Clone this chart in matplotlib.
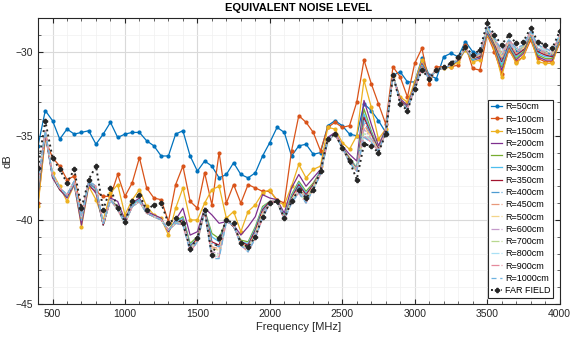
import numpy as np
import matplotlib
matplotlib.use("Agg")
import matplotlib.pyplot as plt
from matplotlib.ticker import MultipleLocator

plt.rcParams['font.family'] = ['Liberation Sans', 'DejaVu Sans']

# frequency axis, 400 to 4000 MHz every 50 MHz
freq = list(range(400, 4001, 50))

# values (dB)
r50 = [-35.6, -33.5, -34.1, -35.2, -34.6, -34.9, -34.8, -34.7, -35.5, -34.9,
       -34.2, -35.1, -34.9, -34.8, -34.8, -35.3, -35.6, -36.2, -36.2, -34.9,
       -34.7, -36.2, -37.1, -36.5, -36.8, -37.5, -37.3, -36.6, -37.3, -37.5,
       -37.2, -36.2, -35.4, -34.5, -34.8, -36.2, -35.6, -35.5, -36.1, -36.0,
       -34.4, -34.1, -34.4, -34.9, -35.0, -33.1, -33.5, -34.1, -34.8, -31.4,
       -31.2, -31.8, -31.8, -30.4, -31.4, -31.6, -30.3, -30.1, -30.3, -29.4,
       -30.0, -30.2, -28.6, -29.3, -30.3, -29.4, -29.9, -29.8, -28.9, -29.9,
       -30.0, -30.2, -29.1]
r100 = [-39.0, -35.2, -36.3, -36.8, -37.6, -37.4, -39.5, -38.0, -38.3, -38.6,
        -38.6, -37.3, -38.6, -37.8, -36.3, -38.1, -38.7, -38.8, -40.1, -37.9,
        -36.8, -38.9, -39.3, -37.2, -39.1, -36.0, -39.0, -37.9, -39.0, -37.9,
        -38.1, -38.3, -38.3, -38.8, -39.0, -35.9, -33.8, -34.2, -34.8, -35.9,
        -34.5, -34.2, -34.5, -34.4, -33.0, -30.5, -31.9, -33.1, -34.3, -30.9,
        -31.5, -32.7, -30.7, -29.8, -31.9, -30.9, -30.9, -30.9, -30.8, -29.6,
        -31.0, -31.1, -29.0, -30.0, -31.3, -29.9, -30.6, -30.3, -29.3, -30.4,
        -30.6, -30.6, -29.5]
r150 = [-39.2, -35.0, -37.2, -38.0, -38.9, -37.9, -40.4, -38.0, -38.8, -40.0,
        -38.4, -37.9, -39.7, -38.8, -38.2, -39.2, -39.7, -39.9, -40.9, -39.3,
        -38.1, -40.0, -40.0, -39.0, -38.2, -38.0, -39.9, -39.5, -40.7, -39.5,
        -39.1, -38.4, -38.2, -38.9, -39.1, -38.0, -36.7, -37.5, -37.0, -36.8,
        -34.5, -34.6, -35.4, -35.8, -35.0, -31.7, -33.3, -35.2, -34.6, -31.5,
        -32.7, -33.0, -31.8, -30.5, -31.5, -31.1, -31.0, -30.9, -30.6, -29.9,
        -30.6, -30.5, -29.0, -29.8, -31.5, -29.8, -30.7, -30.3, -29.1, -30.6,
        -30.7, -30.7, -29.4]
r200 = [-38.6, -34.9, -37.5, -38.2, -38.7, -37.9, -40.3, -37.9, -38.4, -40.3,
        -38.7, -38.9, -40.0, -39.0, -38.7, -39.5, -39.7, -39.9, -40.7, -40.0,
        -39.3, -40.9, -40.7, -39.3, -39.7, -40.2, -40.1, -40.3, -40.9, -40.4,
        -39.8, -38.5, -38.7, -38.8, -39.6, -38.1, -37.3, -38.0, -37.5, -37.0,
        -35.1, -34.8, -35.6, -36.1, -36.5, -32.9, -34.3, -35.6, -34.6, -31.4,
        -32.8, -33.2, -32.0, -30.7, -31.5, -31.1, -31.0, -30.8, -30.5, -29.8,
        -30.5, -30.4, -28.9, -29.7, -31.1, -29.7, -30.5, -30.1, -29.0, -30.3,
        -30.5, -30.5, -29.3]
r250 = [-38.4, -34.8, -37.4, -38.2, -38.6, -37.8, -40.0, -37.8, -38.2, -40.3,
        -38.8, -39.2, -40.1, -39.1, -38.8, -39.6, -39.8, -40.0, -40.6, -40.1,
        -39.8, -41.4, -41.0, -39.4, -40.8, -41.1, -40.0, -40.4, -41.2, -41.3,
        -40.4, -39.2, -38.9, -38.9, -39.8, -38.5, -37.7, -38.3, -37.8, -37.1,
        -35.2, -34.9, -35.7, -36.3, -36.9, -33.4, -34.7, -35.8, -34.7, -31.4,
        -32.9, -33.3, -32.1, -30.8, -31.6, -31.1, -31.0, -30.8, -30.5, -29.8,
        -30.5, -30.3, -28.8, -29.6, -30.9, -29.6, -30.4, -30.0, -29.0, -30.2,
        -30.4, -30.4, -29.3]
r300 = [-38.3, -34.8, -37.4, -38.2, -38.6, -37.8, -40.0, -37.8, -38.2, -40.3,
        -38.8, -39.3, -40.1, -39.1, -38.8, -39.6, -39.8, -40.0, -40.6, -40.1,
        -39.9, -41.5, -41.1, -39.4, -41.0, -41.3, -40.0, -40.4, -41.3, -41.4,
        -40.5, -39.3, -38.9, -38.9, -39.8, -38.6, -37.8, -38.4, -37.9, -37.1,
        -35.2, -34.9, -35.7, -36.4, -36.9, -33.7, -34.8, -35.8, -34.7, -31.4,
        -32.9, -33.3, -32.1, -30.8, -31.6, -31.1, -31.0, -30.8, -30.5, -29.8,
        -30.5, -30.3, -28.8, -29.5, -30.8, -29.6, -30.3, -29.9, -29.0, -30.1,
        -30.3, -30.3, -29.3]
r350 = [-38.2, -34.8, -37.4, -38.2, -38.6, -37.8, -39.9, -37.8, -38.1, -40.3,
        -38.8, -39.3, -40.2, -39.2, -38.9, -39.6, -39.8, -40.0, -40.6, -40.2,
        -40.0, -41.6, -41.1, -39.4, -41.3, -41.5, -40.0, -40.4, -41.3, -41.5,
        -40.6, -39.4, -38.9, -38.9, -39.9, -38.7, -37.9, -38.5, -37.9, -37.2,
        -35.2, -34.9, -35.7, -36.4, -37.0, -33.9, -34.9, -35.8, -34.7, -31.4,
        -32.9, -33.3, -32.1, -30.9, -31.6, -31.1, -31.0, -30.8, -30.5, -29.8,
        -30.4, -30.3, -28.7, -29.5, -30.6, -29.5, -30.2, -29.9, -28.9, -30.0,
        -30.2, -30.3, -29.2]
r400 = [-38.1, -34.8, -37.4, -38.1, -38.6, -37.8, -39.9, -37.8, -38.1, -40.2,
        -38.8, -39.3, -40.2, -39.2, -38.9, -39.6, -39.8, -40.0, -40.6, -40.2,
        -40.0, -41.6, -41.2, -39.4, -41.4, -41.6, -40.1, -40.3, -41.4, -41.6,
        -40.7, -39.5, -39.0, -38.9, -39.9, -38.8, -38.0, -38.6, -38.0, -37.2,
        -35.2, -34.9, -35.7, -36.5, -37.0, -34.1, -35.0, -35.9, -34.7, -31.4,
        -33.0, -33.3, -32.1, -30.9, -31.6, -31.1, -31.0, -30.8, -30.5, -29.8,
        -30.4, -30.2, -28.7, -29.4, -30.5, -29.5, -30.1, -29.8, -28.9, -29.9,
        -30.1, -30.2, -29.2]
r450 = [-38.0, -34.7, -37.3, -38.1, -38.5, -37.7, -39.9, -37.7, -38.1, -40.2,
        -38.8, -39.4, -40.2, -39.2, -38.9, -39.6, -39.8, -40.0, -40.6, -40.2,
        -40.1, -41.7, -41.2, -39.5, -41.6, -41.7, -40.1, -40.3, -41.4, -41.6,
        -40.8, -39.6, -39.0, -38.9, -39.9, -38.8, -38.1, -38.7, -38.0, -37.2,
        -35.3, -34.9, -35.7, -36.5, -37.0, -34.3, -35.1, -35.9, -34.8, -31.4,
        -33.0, -33.4, -32.2, -30.9, -31.6, -31.1, -31.0, -30.8, -30.4, -29.8,
        -30.4, -30.2, -28.6, -29.4, -30.4, -29.4, -30.1, -29.8, -28.9, -29.9,
        -30.1, -30.2, -29.2]
r500 = [-38.0, -34.7, -37.3, -38.1, -38.5, -37.7, -39.8, -37.7, -38.0, -40.2,
        -38.8, -39.4, -40.2, -39.2, -38.9, -39.6, -39.8, -40.0, -40.6, -40.2,
        -40.1, -41.7, -41.2, -39.5, -41.7, -41.8, -40.1, -40.3, -41.4, -41.7,
        -40.8, -39.6, -39.0, -38.9, -39.9, -38.8, -38.1, -38.7, -38.0, -37.2,
        -35.3, -34.9, -35.7, -36.5, -37.0, -34.5, -35.1, -35.9, -34.8, -31.4,
        -33.0, -33.4, -32.2, -31.0, -31.6, -31.1, -31.0, -30.8, -30.4, -29.8,
        -30.4, -30.2, -28.6, -29.4, -30.3, -29.4, -30.0, -29.8, -28.9, -29.8,
        -30.0, -30.2, -29.1]
r600 = [-37.9, -34.7, -37.3, -38.1, -38.5, -37.7, -39.8, -37.7, -38.0, -40.2,
        -38.8, -39.4, -40.2, -39.2, -38.9, -39.6, -39.8, -40.0, -40.6, -40.2,
        -40.2, -41.8, -41.3, -39.5, -41.9, -42.0, -40.1, -40.3, -41.5, -41.7,
        -40.9, -39.7, -39.0, -38.9, -40.0, -38.9, -38.2, -38.8, -38.1, -37.3,
        -35.3, -34.9, -35.7, -36.6, -37.0, -34.6, -35.2, -35.9, -34.8, -31.4,
        -33.0, -33.4, -32.2, -31.0, -31.6, -31.1, -31.0, -30.8, -30.4, -29.8,
        -30.4, -30.1, -28.6, -29.3, -30.2, -29.4, -30.0, -29.7, -28.9, -29.8,
        -30.0, -30.1, -29.1]
r700 = [-37.8, -34.7, -37.3, -38.1, -38.5, -37.7, -39.8, -37.7, -38.0, -40.2,
        -38.8, -39.4, -40.2, -39.2, -38.9, -39.6, -39.8, -40.0, -40.6, -40.2,
        -40.2, -41.8, -41.3, -39.5, -42.0, -42.1, -40.1, -40.3, -41.5, -41.8,
        -41.0, -39.8, -39.0, -38.9, -40.0, -38.9, -38.3, -38.9, -38.1, -37.3,
        -35.3, -34.9, -35.7, -36.6, -37.1, -34.8, -35.3, -35.9, -34.8, -31.4,
        -33.0, -33.4, -32.2, -31.0, -31.6, -31.1, -31.0, -30.8, -30.4, -29.8,
        -30.3, -30.1, -28.6, -29.3, -30.1, -29.3, -29.9, -29.7, -28.8, -29.7,
        -29.9, -30.1, -29.1]
r800 = [-37.8, -34.7, -37.3, -38.1, -38.5, -37.7, -39.8, -37.7, -38.0, -40.2,
        -38.8, -39.4, -40.2, -39.2, -38.9, -39.6, -39.8, -40.0, -40.6, -40.2,
        -40.2, -41.8, -41.3, -39.5, -42.1, -42.2, -40.1, -40.3, -41.5, -41.8,
        -41.0, -39.8, -39.0, -38.9, -40.0, -38.9, -38.3, -38.9, -38.2, -37.3,
        -35.3, -34.9, -35.7, -36.6, -37.1, -34.9, -35.3, -35.9, -34.8, -31.4,
        -33.0, -33.4, -32.2, -31.0, -31.6, -31.1, -31.0, -30.8, -30.4, -29.8,
        -30.3, -30.1, -28.5, -29.2, -30.0, -29.3, -29.9, -29.6, -28.8, -29.7,
        -29.9, -30.0, -29.0]
r900 = [-37.7, -34.7, -37.3, -38.1, -38.5, -37.7, -39.8, -37.7, -38.0, -40.2,
        -38.8, -39.4, -40.2, -39.2, -38.9, -39.6, -39.8, -40.0, -40.6, -40.2,
        -40.3, -41.9, -41.3, -39.5, -42.2, -42.2, -40.1, -40.3, -41.5, -41.9,
        -41.1, -39.9, -39.0, -38.9, -40.0, -39.0, -38.4, -39.0, -38.2, -37.3,
        -35.3, -34.9, -35.7, -36.6, -37.1, -35.0, -35.4, -35.9, -34.8, -31.4,
        -33.0, -33.4, -32.2, -31.0, -31.6, -31.1, -31.0, -30.8, -30.4, -29.8,
        -30.3, -30.1, -28.5, -29.2, -30.0, -29.3, -29.8, -29.6, -28.8, -29.6,
        -29.8, -30.0, -29.0]
r1000 = [-37.7, -34.7, -37.3, -38.1, -38.5, -37.7, -39.8, -37.7, -38.0, -40.2,
         -38.8, -39.4, -40.2, -39.2, -38.9, -39.6, -39.8, -40.0, -40.6, -40.2,
         -40.3, -41.9, -41.3, -39.5, -42.3, -42.3, -40.1, -40.3, -41.5, -41.9,
         -41.1, -39.9, -39.0, -38.9, -40.0, -39.0, -38.4, -39.0, -38.2, -37.3,
         -35.3, -34.9, -35.7, -36.6, -37.1, -35.1, -35.4, -35.9, -34.8, -31.4,
         -33.0, -33.4, -32.2, -31.0, -31.6, -31.1, -31.0, -30.8, -30.4, -29.8,
         -30.3, -30.1, -28.5, -29.2, -29.9, -29.3, -29.8, -29.6, -28.8, -29.6,
         -29.8, -30.0, -29.0]
far_field = [-36.9, -34.1, -36.3, -37.0, -37.8, -37.0, -39.3, -37.6, -36.8, -39.4,
             -38.1, -39.3, -40.1, -38.9, -38.5, -39.4, -39.1, -39.0, -40.2, -39.9,
             -40.2, -41.7, -41.1, -39.4, -42.1, -41.1, -40.0, -40.2, -41.4, -41.6,
             -41.0, -39.8, -39.0, -38.9, -39.9, -38.9, -38.2, -38.7, -38.2, -37.1,
             -35.2, -34.9, -35.7, -36.5, -37.6, -35.5, -35.6, -36.0, -34.9, -31.4,
             -33.1, -33.5, -32.2, -31.1, -31.6, -31.1, -30.9, -30.7, -30.3, -29.7,
             -30.2, -29.9, -28.3, -29.0, -29.6, -29.0, -29.5, -29.4, -28.6, -29.4,
             -29.6, -29.8, -28.8]

labels = ["R=50cm", "R=100cm", "R=150cm", "R=200cm", "R=250cm", "R=300cm",
          "R=350cm", "R=400cm", "R=450cm", "R=500cm", "R=600cm", "R=700cm",
          "R=800cm", "R=900cm", "R=1000cm"]
series = [r50, r100, r150, r200, r250, r300, r350, r400, r450, r500,
          r600, r700, r800, r900, r1000]

# matlab default colour order, then lighter versions for the far radii
mcol = ["#0072BD", "#D95319", "#EDB120", "#7E2F8E", "#77AC30", "#4DBEEE", "#A2142F"]
light = ["#4d9bd1", "#e8987a", "#f3d58a", "#c59acb", "#b8d88f", "#a9e0f5", "#e58a9c", "#6fb3e0"]

styles = []
for i in range(7):
    styles.append(dict(color=mcol[i], ls="-", lw=0.9,
                       marker="." if i < 3 else None, ms=4))
for i in range(7):
    styles.append(dict(color=light[i], ls="-.", lw=0.9, marker=None))
styles.append(dict(color=light[7], ls=(0, (4, 3)), lw=0.9, marker=None))

fig = plt.figure(figsize=(5.7, 3.39), dpi=100)
ax = fig.add_axes([0.0667, 0.103, 0.915, 0.844])

for y, lab, st in zip(series, labels, styles):
    ax.plot(freq, y, label=lab, **st)
ax.plot(freq, far_field, color="#262626", ls=":", lw=1.4, marker="P", ms=3,
        label="FAR FIELD")

ax.set_xlim(400, 4000)
ax.set_ylim(-45, -28)
ax.set_xticks(range(500, 4001, 500))
ax.set_yticks([-45, -40, -35, -30])
ax.xaxis.set_minor_locator(MultipleLocator(100))
ax.yaxis.set_minor_locator(MultipleLocator(1))
ax.grid(True, which="major", color="#d9d9d9", lw=0.8)
ax.grid(True, which="minor", color="#f0f0f0", lw=0.5)
ax.set_axisbelow(True)
ax.tick_params(which="both", direction="in", top=True, right=True,
               labelsize=7.5, colors="#262626")
ax.tick_params(which="major", length=3.5, width=0.8)
ax.tick_params(which="minor", length=2, width=0.5)
for sp in ax.spines.values():
    sp.set_color("#262626")
    sp.set_linewidth(0.8)

ax.set_title("EQUIVALENT NOISE LEVEL", fontsize=8, fontweight="bold", pad=5)
ax.set_xlabel("Frequency [MHz]", fontsize=8, color="#262626", labelpad=2)
ax.set_ylabel("dB", fontsize=8, color="#262626", labelpad=2)

leg = ax.legend(loc="lower right", bbox_to_anchor=(0.988, 0.022), fontsize=6.5,
                handlelength=1.3, handletextpad=0.3, labelspacing=0.36,
                borderpad=0.3, borderaxespad=0.0, fancybox=False, framealpha=1)
leg.get_frame().set_edgecolor("#262626")
leg.get_frame().set_linewidth(0.8)

fig.savefig("out.png", dpi=100)
